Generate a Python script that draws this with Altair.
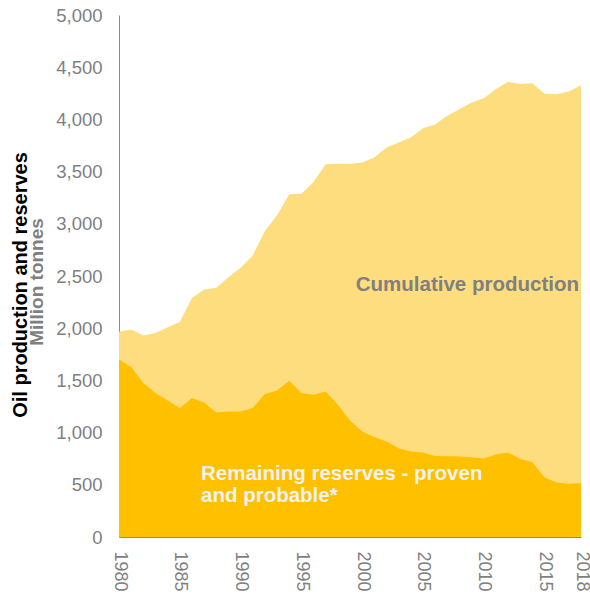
import altair as alt
import pandas as pd

# Oil reserves and cumulative production, million tonnes
years = list(range(1980, 2019))
reserves = [1699, 1628, 1475, 1379, 1308, 1235, 1331, 1289, 1193, 1202,
            1202, 1235, 1369, 1404, 1497, 1379, 1363, 1394, 1267, 1115,
            1011, 957, 915, 851, 819, 809, 777, 774, 770, 765,
            752, 790, 809, 749, 717, 569, 521, 509, 515]
# reserves + cumulative production (top of the stacked areas)
total = [1967, 1987, 1930, 1955, 2009, 2060, 2290, 2370, 2387, 2488,
         2578, 2697, 2930, 3081, 3282, 3289, 3400, 3570, 3575, 3572,
         3586, 3634, 3730, 3778, 3826, 3916, 3951, 4034, 4098, 4162,
         4203, 4290, 4360, 4338, 4347, 4245, 4242, 4268, 4328]

x_ticks = [1980, 1985, 1990, 1995, 2000, 2005, 2010, 2015, 2018]
y_ticks = list(range(0, 5001, 500))

df = pd.DataFrame({"year": years, "reserves": reserves, "total": total})

FONT = "Liberation Sans"
GREY = "#7f7f7f"
AXIS_LINE = "#8c8c8c"

x_enc = alt.X(
    "year:Q",
    scale=alt.Scale(domain=[1980, 2018], nice=False, zero=False),
    axis=alt.Axis(values=x_ticks, format="d", labelAngle=90, ticks=False,
                  grid=False, title=None, labelFont=FONT, labelFontSize=18,
                  labelColor=GREY, labelPadding=14, domainColor=AXIS_LINE,
                  labelFlush=False, labelOverlap=False),
)
y_scale = alt.Scale(domain=[0, 5000], nice=False)
y_axis = alt.Axis(values=y_ticks, format=",d", ticks=False, grid=False,
                  title=None, labelFont=FONT, labelFontSize=18.5,
                  labelColor=GREY, labelPadding=17, domainColor=AXIS_LINE)

base = alt.Chart(df)

cumulative_area = base.mark_area(color="#FEDD7E").encode(
    x=x_enc, y=alt.Y("total:Q", scale=y_scale, axis=y_axis)
)
reserves_area = base.mark_area(color="#FFC000").encode(
    x=x_enc, y=alt.Y("reserves:Q", scale=y_scale, axis=y_axis)
)


def label(text, x, y, color, size, align="left", angle=0):
    return alt.Chart(pd.DataFrame({"t": [text]})).mark_text(
        align=align, baseline="alphabetic", angle=angle, font=FONT,
        fontSize=size, fontWeight="bold", color=color
    ).encode(x=alt.value(x), y=alt.value(y), text="t:N")


title_main = label("Oil production and reserves", -92, 270, "#000000", 20,
                   align="center", angle=270)
title_unit = label("Million tonnes", -76, 267, GREY, 19,
                   align="center", angle=270)
cum_label = label("Cumulative production", 460, 276, "#808080", 20.5,
                  align="right")
res_label1 = label("Remaining reserves - proven", 82, 465, "#F2F2F2", 20.5)
res_label2 = label("and probable*", 82, 487, "#F2F2F2", 20.5)

chart = alt.layer(
    cumulative_area, reserves_area,
    title_main, title_unit, cum_label, res_label1, res_label2,
).properties(
    width=462,
    height=522,
    padding={"left": 119, "top": 15, "right": 9, "bottom": 60},
    autosize=alt.AutoSizeParams(type="none"),
    background="white",
).configure_view(stroke=None)

chart.save("out.html", embed_options={"renderer": "svg", "actions": False})
